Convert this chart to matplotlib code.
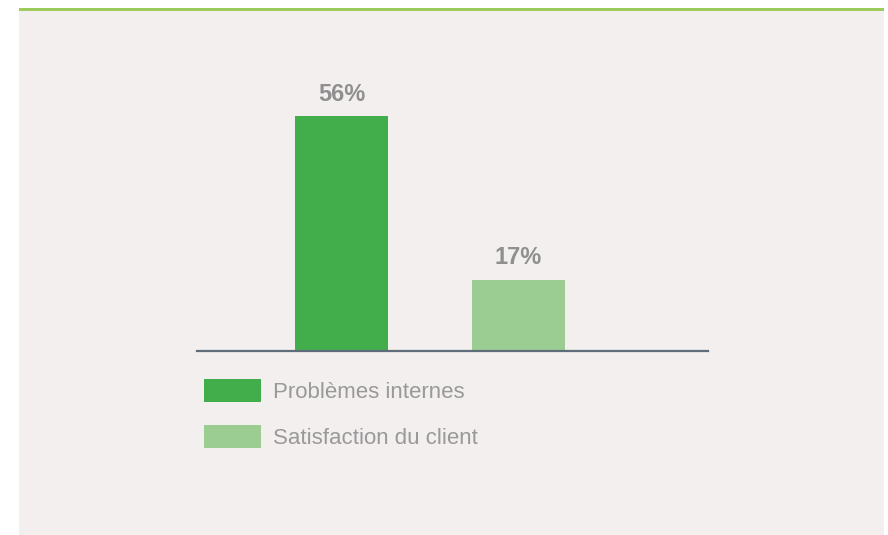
import matplotlib
matplotlib.use("Agg")
import matplotlib.pyplot as plt
from matplotlib.patches import Rectangle, Patch

categories = ["Problèmes internes", "Satisfaction du client"]
values = [56, 17]
value_labels = ["56%", "17%"]
colors = ["#41ae4b", "#9bcd92"]

plt.rcParams['font.family'] = ['Liberation Sans', 'DejaVu Sans']

W, H = 888, 535
fig = plt.figure(figsize=(W / 100, H / 100), dpi=100)
fig.patch.set_facecolor("white")

# panel background and green top rule
fig.patches.append(Rectangle((19 / W, 0), (884 - 19) / W, (H - 8) / H,
                             transform=fig.transFigure, facecolor="#f3efee",
                             edgecolor="none", zorder=-2))
fig.patches.append(Rectangle((19 / W, (H - 11) / H), (884 - 19) / W, 3 / H,
                             transform=fig.transFigure, facecolor="#9ccb5b",
                             edgecolor="none", zorder=-1))

# axes: baseline at y=351px, from x=197 to 708
ax_left, ax_right = 197, 708
ax_bottom, ax_top = 351, 60
ax = fig.add_axes([ax_left / W, 1 - ax_bottom / H,
                   (ax_right - ax_left) / W, (ax_bottom - ax_top) / H])
ax.set_facecolor("none")

x = range(len(values))
ax.bar(x, values, width=0.525, color=colors, zorder=2)
for i, (v, lab) in enumerate(zip(values, value_labels)):
    ax.annotate(lab, (i, v), xytext=(0, 7.5), textcoords="offset points",
                ha="center", va="bottom", fontsize=17, fontweight="bold",
                color="#8f8f8f")

ax.set_xlim(-0.816, 2.071)
ax.set_ylim(0, 56 * (ax_bottom - ax_top) / 235)
for s in ["top", "right", "left"]:
    ax.spines[s].set_visible(False)
ax.spines["bottom"].set_color("#5f6d7a")
ax.spines["bottom"].set_linewidth(1.6)
ax.spines["bottom"].set_zorder(3)
ax.set_xticks([])
ax.set_yticks([])

handles = [Patch(facecolor=c, edgecolor="none") for c in colors]
leg = fig.legend(handles, categories, loc="upper left",
                 bbox_to_anchor=(204 / W, 1 - 379 / H),
                 frameon=False, fontsize=16, borderpad=0, borderaxespad=0,
                 handlelength=2.57, handleheight=1.2, handletextpad=0.52,
                 labelspacing=1.0)
for t in leg.get_texts():
    t.set_color("#999999")

fig.savefig("out.png", dpi=100, facecolor=fig.get_facecolor())
